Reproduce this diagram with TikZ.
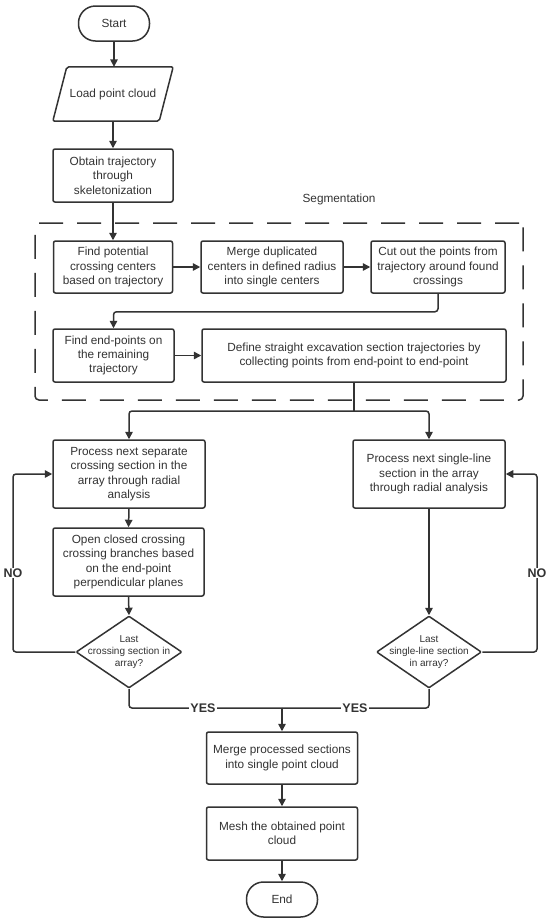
\documentclass[tikz,border=0pt]{standalone}
\usepackage{fontspec}
\setmainfont{Liberation Sans}
\usetikzlibrary{arrows.meta,shapes.geometric,calc}
\definecolor{ink}{HTML}{333333}
\begin{document}
\begin{tikzpicture}[x=1pt,y=-1pt,
  every node/.style={text=ink},
  box/.style={draw=ink, line width=1.5pt, rounded corners=2pt, align=center, inner sep=0pt, font=\fontsize{11.8}{14.4}\selectfont},
  term/.style={box, rounded corners=17pt},
  dia/.style={diamond, draw=ink, line width=1.5pt, inner sep=0pt, rounded corners=1pt},
  diatext/.style={align=center, font=\fontsize{10}{12}\selectfont, inner sep=0pt},
  conn/.style={draw=ink, line width=1.5pt, rounded corners=3pt},
  arr/.style={conn, -{Triangle[length=7.5pt,width=7.5pt]}},
  lbl/.style={font=\bfseries\fontsize{12.5}{14}\selectfont, fill=white, inner sep=1pt},
]
\useasboundingbox[fill=white] (0,0) rectangle (550,922);

% segmentation frame
\node[draw=ink, line width=1.5pt, dash pattern=on 24pt off 14pt, rounded corners=4pt, minimum width=488pt, minimum height=177pt, inner sep=0pt] (segbox) at (279,311.5) {};
\node[font=\fontsize{11.8}{14.4}\selectfont] (seglbl) at (339,199) {Segmentation};

% top column
\node[term, minimum width=71pt, minimum height=35pt] (start) at (114,23.5) {Start};
\node[font=\fontsize{11.8}{14.4}\selectfont, minimum width=106pt, minimum height=54pt, inner sep=0pt] (load) at (113,94) {Load point cloud};
\draw[ink, line width=1.5pt, rounded corners=2pt] ($(load.north west)+(7,0)$) -- ($(load.north east)+(7,0)$) -- ($(load.south east)+(-7,0)$) -- ($(load.south west)+(-7,0)$) -- cycle;
\node[box, minimum width=120pt, minimum height=53pt] (obtain) at (113,175.5) {Obtain trajectory\\through\\skeletonization};

% segmentation contents
\node[box, minimum width=119pt, minimum height=52pt] (find) at (113,267) {Find potential\\crossing centers\\based on trajectory};
\node[box, minimum width=142pt, minimum height=52pt] (merge) at (272,267) {Merge duplicated\\centers in defined radius\\into single centers};
\node[box, minimum width=134pt, minimum height=52pt] (cut) at (438,267) {Cut out the points from\\trajectory around found\\crossings};
\node[box, minimum width=121pt, minimum height=53pt] (ends) at (113.5,355.5) {Find end-points on\\the remaining\\trajectory};
\node[box, minimum width=304pt, minimum height=53pt] (define) at (354,355.5) {Define straight excavation section trajectories by\\collecting points from end-point to end-point};

% branches
\node[box, minimum width=152pt, minimum height=68pt] (proc1) at (129,474) {Process next separate\\crossing section in the\\array through radial\\analysis};
\node[box, minimum width=151pt, minimum height=68pt] (open) at (128.5,562) {Open closed crossing\\crossing branches based\\on the end-point\\perpendicular planes};
\node[dia, minimum width=106pt, minimum height=72pt] (dia1) at (129,652) {};
\node[diatext] (dia1t) at (dia1) {Last\\crossing section in\\array?};
\node[box, minimum width=152pt, minimum height=68pt] (proc2) at (429,474) {Process next single-line\\section in the array\\through radial analysis};
\node[dia, minimum width=105pt, minimum height=72pt] (dia2) at (429,652) {};
\node[diatext] (dia2t) at (dia2) {Last\\single-line section\\in array?};

% bottom column
\node[box, minimum width=151pt, minimum height=52pt] (merge2) at (282,758) {Merge processed sections\\into single point cloud};
\node[box, minimum width=151pt, minimum height=53pt] (mesh) at (282,833.5) {Mesh the obtained point\\cloud};
\node[term, minimum width=71pt, minimum height=35pt] (end) at (282,899.5) {End};

% connectors
\draw[arr] (start.south) -- (start.south |- load.north);
\draw[arr] (load.south) -- (obtain.north);
\draw[arr] (obtain.south) -- (find.north);
\draw[arr] (find.east) -- (merge.west);
\draw[arr] (merge.east) -- (cut.west);
\draw[arr] (cut.south) -- ++(0,18) -| (ends.north);
\draw[arr] (ends.east) -- (define.west);
\coordinate (split) at (354,411);
\draw[conn] (define.south) -- (split);
\draw[arr] (split) -| (proc1.north);
\draw[arr] (split) -| (proc2.north);
\draw[arr] (proc1.south) -- (open.north);
\draw[arr] (open.south) -- (dia1.north);
\draw[arr] (proc2.south) -- (dia2.north);
\coordinate (noL) at (13,573);
\coordinate (noR) at (537,573);
\draw[arr] (dia1.west) -| (noL) |- (proc1.west);
\draw[arr] (dia2.east) -| (noR) |- (proc2.east);
\node[lbl] (noLt) at (noL) {NO};
\node[lbl] (noRt) at (noR) {NO};
\coordinate (join) at (282,708);
\draw[conn] (dia1.south) |- (join);
\draw[conn] (dia2.south) |- (join);
\draw[arr] (join) -- (merge2.north);
\node[lbl] (yesL) at (203,708) {YES};
\node[lbl] (yesR) at (355,708) {YES};
\draw[arr] (merge2.south) -- (mesh.north);
\draw[arr] (mesh.south) -- (end.north);
\end{tikzpicture}
\end{document}
